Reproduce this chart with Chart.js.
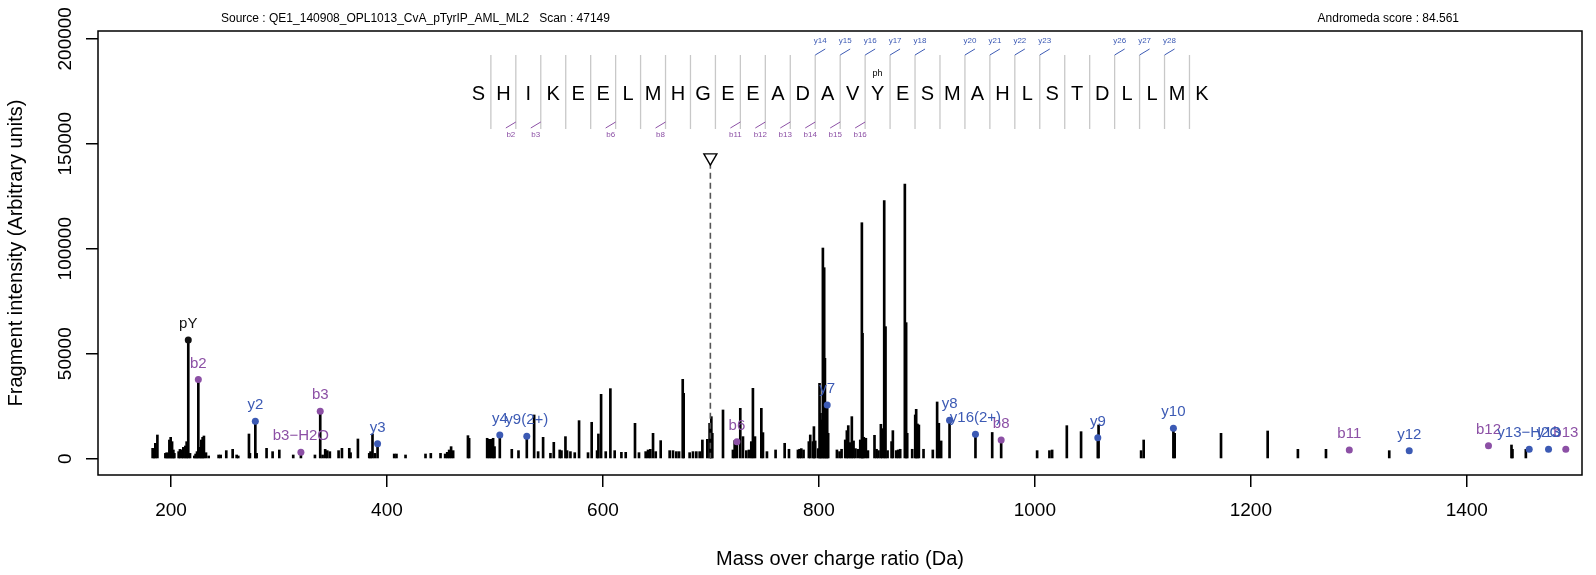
<!DOCTYPE html>
<html>
<head>
<meta charset="utf-8">
<script src="https://cdn.jsdelivr.net/npm/chart.js@4.4.0/dist/chart.umd.min.js"></script>
<style>
  html, body { margin: 0; padding: 0; background: #fff; }
  #wrap { width: 1596px; height: 575px; }
</style>
</head>
<body>
<div id="wrap"><canvas id="spectrum" width="1596" height="575"></canvas></div>
<script>
// Picchi dello spettro (m/z, intensita')
const peakMz = [
  183.0, 184.3, 185.5, 187.4, 194.8, 196.0, 197.2, 198.5, 199.7, 201.0, 202.2, 203.1, 207.1, 208.3, 210.2,
  211.4, 213.3, 214.5, 216.0, 217.6, 221.6, 222.8, 224.1, 225.3, 226.8, 228.1, 229.3, 230.5, 232.4, 234.9,
  244.1, 246.0, 251.2, 257.1, 260.8, 262.3, 272.2, 273.1, 278.1, 279.3, 288.5, 294.1, 300.3, 313.2, 320.3,
  333.3, 338.2, 340.4, 342.8, 344.7, 347.1, 355.2, 358.3, 365.1, 366.3, 373.1, 383.6, 384.8, 386.6, 388.8,
  391.3, 406.7, 408.8, 417.2, 435.7, 440.6, 449.6, 453.9, 455.8, 457.6, 459.4, 461.3, 475.0, 476.1, 492.8,
  494.6, 496.5, 498.3, 499.6, 504.5, 515.6, 521.8, 529.5, 536.3, 540.0, 544.6, 551.4, 554.5, 560.0, 561.6,
  565.3, 566.8, 569.9, 573.9, 577.9, 586.2, 589.6, 594.6, 595.8, 598.3, 602.6, 606.9, 610.9, 617.1, 621.1,
  629.7, 633.4, 639.6, 641.8, 643.9, 646.4, 648.9, 653.5, 661.8, 664.9, 668.0, 670.5, 673.9, 674.8, 680.3,
  683.4, 686.5, 689.6, 692.1, 696.7, 698.8, 700.4, 701.3, 711.2, 720.4, 722.0, 724.1, 727.2, 729.7, 732.8,
  735.2, 737.4, 738.9, 740.8, 746.7, 748.2, 751.9, 759.9, 768.3, 772.3, 780.6, 782.1, 783.7, 785.8, 790.7,
  792.0, 794.5, 795.4, 796.6, 799.4, 800.6, 801.5, 802.5, 803.7, 804.9, 805.6, 806.8, 807.7, 808.6, 816.7,
  819.1, 821.0, 824.4, 825.9, 827.2, 829.0, 830.5, 832.1, 833.9, 836.4, 838.3, 839.8, 840.4, 841.6, 843.5,
  845.4, 851.5, 853.4, 855.2, 857.4, 858.6, 860.5, 861.7, 863.6, 867.3, 868.5, 871.6, 873.4, 875.3, 879.6,
  880.8, 881.8, 886.4, 889.2, 890.1, 891.3, 892.6, 896.9, 905.5, 909.5, 911.1, 913.2, 921.0, 945.0, 960.5,
  968.8, 1002.1, 1013.5, 1016.0, 1029.6, 1042.8, 1058.3, 1059.0, 1098.4, 1100.8, 1128.3, 1129.5, 1172.4, 1215.6, 1243.6,
  1269.6, 1328.2, 1441.4, 1442.3, 1454.7
];
const peakIntensity = [
  4940, 4440, 7320, 11290, 2540, 2860, 2540, 8900, 10180, 8120, 4150, 2540, 3360, 4450, 4150,
  5400, 6050, 8120, 56570, 2540, 1300, 2240, 3360, 37670, 5420, 8910, 10180, 10820, 2860, 1300,
  1770, 1770, 3840, 4470, 1770, 1300, 11770, 2540, 17800, 2540, 4940, 3360, 4150, 1770, 2200,
  1770, 22660, 1770, 4450, 3840, 3360, 3840, 4940, 4940, 2860, 9390, 2540, 3360, 11770, 2540,
  7140, 2240, 2240, 1770, 2240, 2540, 2540, 2240, 3040, 4150, 5740, 3840, 10980, 9690, 9720,
  9240, 9240, 9720, 5750, 11300, 4480, 3840, 10670, 20830, 3370, 10190, 2580, 7810, 4160, 3840,
  10510, 3840, 3370, 2880, 18130, 2880, 17340, 3840, 11780, 30660, 3370, 33370, 3840, 3050, 3050,
  16860, 2880, 3370, 4160, 4480, 12100, 3370, 8610, 3840, 3840, 3370, 3370, 37810, 31140, 2880,
  3370, 3370, 3370, 8920, 9240, 16860, 20030, 12100, 23210, 4160, 8610, 8130, 24000, 10510, 3840,
  4160, 8130, 33520, 10510, 24000, 12420, 3370, 4160, 7340, 4490, 4170, 4490, 4800, 4170, 8140,
  11310, 8140, 15280, 8460, 4800, 35910, 21630, 18450, 100340, 90980, 47810, 7345, 25600, 12110, 4170,
  3380, 4490, 8930, 13370, 15760, 7660, 20040, 8460, 4800, 4490, 8930, 112400, 59720, 10200, 9730,
  3850, 11150, 4490, 3850, 16390, 14330, 122880, 62890, 3850, 8140, 13370, 3850, 4170, 4490, 130810,
  64800, 12110, 4490, 20840, 23530, 16550, 16070, 4490, 4170, 27020, 16870, 8460, 18300, 11600, 12500,
  8910, 3840, 3840, 4150, 15740, 12880, 10020, 16060, 3840, 8910, 14470, 12090, 12090, 13200, 4460,
  4460, 3830, 6530, 4460, 4460
];

// Ioni frammento annotati
const ionLabels = ["pY", "b2", "y2", "b3\u2212H2O", "b3", "y3", "y4", "y9(2+)", "b6", "y7", "y8", "y16(2+)",
  "b8", "y9", "y10", "b11", "y12", "b12", "y13\u2212H2O", "y13", "b13"];
const ionMz = [216.0, 225.3, 278.1, 320.3, 338.2, 391.3, 504.5, 529.5, 724.1, 807.7, 921.0, 945.0,
  968.8, 1058.3, 1128.3, 1291.2, 1346.7, 1420.1, 1457.8, 1475.7, 1491.7];
const ionIntensity = [56570, 37670, 17800, 3040, 22660, 7140, 11300, 10670, 8130, 25600, 18300, 11600,
  8910, 10020, 14470, 4150, 3830, 6210, 4460, 4460, 4460];
const ionType = ["p", "b", "y", "b", "b", "y", "y", "y", "b", "y", "y", "y",
  "b", "y", "y", "b", "y", "b", "y", "y", "b"];

// Precursore
const precursorMz = 699.5;
const precursorMark = 143400;

// Sequenza peptidica
const sequence = ["S", "H", "I", "K", "E", "E", "L", "M", "H", "G", "E", "E", "A", "D", "A",
  "V", "Y", "E", "S", "M", "A", "H", "L", "S", "T", "D", "L", "L", "M", "K"];
const bSites = [2, 3, 6, 8, 11, 12, 13, 14, 15, 16];
const ySites = [14, 15, 16, 17, 18, 20, 21, 22, 23, 26, 27, 28];
const phosphoSite = 17;

// Assi
const xTicks = [200, 400, 600, 800, 1000, 1200, 1400];
const xTickLabels = ["200", "400", "600", "800", "1000", "1200", "1400"];
const yTicks = [0, 50000, 100000, 150000, 200000];
const yTickLabels = ["0", "50000", "100000", "150000", "200000"];

const FONT = '"Liberation Sans", Arial, Helvetica, sans-serif';
const COLORS = { b: "#8c50a5", y: "#3c5ab4", p: "#111111" };

function ionSet(type) {
  const idx = ionType.map((t, i) => (t === type ? i : -1)).filter((i) => i >= 0);
  return {
    type: "scatter",
    data: idx.map((i) => ({ x: ionMz[i], y: ionIntensity[i] })),
    names: idx.map((i) => ionLabels[i]),
    backgroundColor: COLORS[type],
    borderColor: COLORS[type],
    pointRadius: 3.5,
    borderWidth: 0,
    order: 0,
  };
}

// Decorazioni in stile R: box, etichette, sequenza
const spectrumDecor = {
  id: "spectrumDecor",
  afterDatasetsDraw(chart) {
    const ctx = chart.ctx;
    ctx.save();
    ctx.font = `15px ${FONT}`;
    ctx.textAlign = "center";
    ctx.textBaseline = "middle";
    chart.data.datasets.forEach((ds, di) => {
      if (!ds.names) return;
      const meta = chart.getDatasetMeta(di);
      ctx.fillStyle = ds.backgroundColor;
      meta.data.forEach((pt, i) => ctx.fillText(ds.names[i], pt.x, pt.y - 16));
    });
    ctx.restore();
  },
  afterDraw(chart) {
    const ctx = chart.ctx;
    const a = chart.chartArea;
    const ys = chart.scales.y;
    ctx.save();

    ctx.strokeStyle = "#000";
    ctx.lineWidth = 1.5;
    ctx.strokeRect(a.left, a.top, a.right - a.left, a.bottom - a.top);

    // etichette asse y ruotate
    ctx.fillStyle = "#000";
    ctx.font = `19px ${FONT}`;
    ctx.textAlign = "center";
    ctx.textBaseline = "middle";
    ys.ticks.forEach((t, i) => {
      ctx.save();
      ctx.translate(ys.right - 32, ys.getPixelForValue(t.value));
      ctx.rotate(-Math.PI / 2);
      ctx.fillText(yTickLabels[i], 0, 0);
      ctx.restore();
    });

    // intestazione
    ctx.font = `12px ${FONT}`;
    ctx.textAlign = "left";
    ctx.fillText("Source : QE1_140908_OPL1013_CvA_pTyrIP_AML_ML2   Scan : 47149", 221, 19);
    ctx.textAlign = "right";
    ctx.fillText("Andromeda score : 84.561", 1459, 19);

    // sequenza
    const seqLeft = 478.4, seqStep = 24.95, seqMid = 94, sepTop = 55, sepBottom = 129;
    const sepX = (k) => seqLeft + (k - 0.5) * seqStep;
    ctx.strokeStyle = "#c8c8c8";
    ctx.lineWidth = 1.3;
    for (let k = 1; k < sequence.length; k++) {
      ctx.beginPath();
      ctx.moveTo(sepX(k), sepTop);
      ctx.lineTo(sepX(k), sepBottom);
      ctx.stroke();
    }
    ctx.fillStyle = "#000";
    ctx.font = `20px ${FONT}`;
    ctx.textAlign = "center";
    sequence.forEach((aa, i) => ctx.fillText(aa, seqLeft + i * seqStep, seqMid));
    ctx.font = `9px ${FONT}`;
    ctx.fillText("ph", seqLeft + (phosphoSite - 1) * seqStep, 74);

    ctx.lineWidth = 1;
    ctx.font = `8px ${FONT}`;
    ctx.strokeStyle = COLORS.y;
    ctx.fillStyle = COLORS.y;
    ySites.forEach((k) => {
      const x = sepX(k);
      ctx.beginPath();
      ctx.moveTo(x, sepTop);
      ctx.lineTo(x + 10, sepTop - 6);
      ctx.stroke();
      ctx.fillText("y" + k, x + 5, sepTop - 14);
    });
    ctx.strokeStyle = COLORS.b;
    ctx.fillStyle = COLORS.b;
    bSites.forEach((k) => {
      const x = sepX(k);
      ctx.beginPath();
      ctx.moveTo(x, sepBottom - 7);
      ctx.lineTo(x - 10, sepBottom - 1);
      ctx.stroke();
      ctx.fillText("b" + k, x - 5, sepBottom + 6);
    });
    ctx.restore();
  },
};

new Chart(document.getElementById("spectrum"), {
  type: "bar",
  data: {
    datasets: [
      ionSet("p"),
      ionSet("b"),
      ionSet("y"),
      {
        type: "line",
        data: [{ x: precursorMz, y: 0 }, { x: precursorMz, y: precursorMark }],
        borderColor: "#555",
        borderWidth: 1.6,
        borderDash: [6, 4],
        pointRadius: [0, 7.5],
        pointStyle: "triangle",
        rotation: 180,
        pointBackgroundColor: "#fff",
        pointBorderColor: "#000",
        pointBorderWidth: 1.4,
        order: 1,
      },
      {
        type: "bar",
        data: peakMz.map((m, i) => ({ x: m, y: peakIntensity[i] })),
        backgroundColor: "#000",
        borderWidth: 0,
        barThickness: 2,
        order: 2,
      },
    ],
  },
  options: {
    responsive: false,
    animation: false,
    devicePixelRatio: 1,
    events: [],
    layout: { padding: { left: 0, top: 31, right: 14, bottom: 0 } },
    plugins: { legend: { display: false }, tooltip: { enabled: false } },
    scales: {
      x: {
        type: "linear",
        offset: false,
        min: 132.4,
        max: 1506.7,
        afterBuildTicks: (s) => { s.ticks = xTicks.map((v) => ({ value: v })); },
        afterFit: (s) => { s.height = 100; },
        border: { display: false },
        grid: { offset: false, drawOnChartArea: false, drawTicks: true, tickLength: 12, color: "#000", lineWidth: 1.5 },
        ticks: {
          autoSkip: false, maxRotation: 0, padding: 12, color: "#000",
          font: { family: FONT, size: 19 },
          callback: (v, i) => xTickLabels[i],
        },
        title: {
          display: true, text: "Mass over charge ratio (Da)", color: "#000",
          font: { family: FONT, size: 20 }, padding: { top: 0, bottom: 4 },
        },
      },
      y: {
        min: -7760,
        max: 203700,
        afterBuildTicks: (s) => { s.ticks = yTicks.map((v) => ({ value: v })); },
        afterFit: (s) => { s.width = 98; },
        border: { display: false },
        grid: { drawOnChartArea: false, drawTicks: true, tickLength: 12, color: "#000", lineWidth: 1.5 },
        ticks: { display: false },
        title: {
          display: true, text: "Fragment intensity (Arbitrary units)", color: "#000",
          font: { family: FONT, size: 20 }, padding: { top: 4, bottom: 0 },
        },
      },
    },
  },
  plugins: [spectrumDecor],
});
</script>
</body>
</html>
